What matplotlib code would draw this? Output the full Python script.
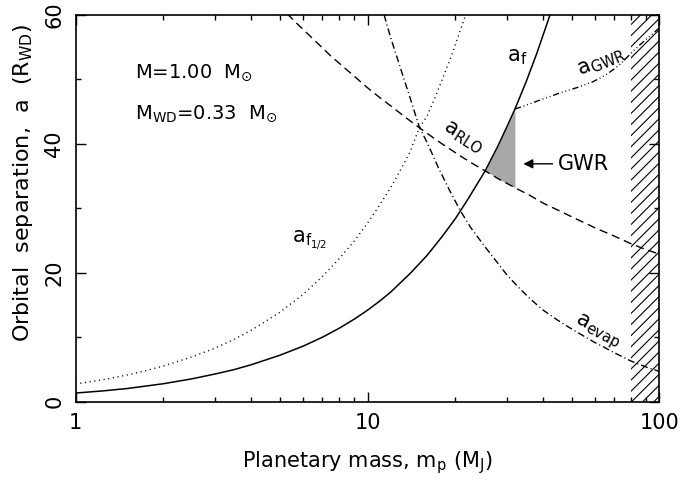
import matplotlib
matplotlib.use('Agg')
import matplotlib.pyplot as plt
import numpy as np

plt.rcParams['font.family'] = ['DejaVu Sans']
plt.rcParams['mathtext.default'] = 'regular'
plt.rcParams['hatch.linewidth'] = 0.8

# curves (planetary mass in M_J, separation in R_WD)
m_f = [1, 1.25, 1.5, 1.75, 2, 2.5, 3, 3.5, 4, 5, 6, 7, 8, 9, 10, 11, 12, 13, 14,
       16, 18, 20, 22, 24, 25.3, 28, 30, 32, 35, 38, 42.2]
a_f = [1.35, 1.7, 2.05, 2.45, 2.8, 3.55, 4.3, 5.0, 5.75, 7.2, 8.6, 10.0, 11.4, 12.8,
       14.2, 15.6, 17.0, 18.5, 19.9, 22.7, 25.6, 28.4, 31.3, 34.1, 35.8, 39.7, 42.6,
       45.4, 49.7, 54.0, 60.0]

m_half = [1, 1.25, 1.5, 1.75, 2, 2.5, 3, 3.5, 4, 5, 6, 7, 8, 9, 10, 11, 12, 13, 14,
          15.05, 16, 17, 18, 19, 20, 21.7]
a_half = [2.75, 3.45, 4.15, 4.85, 5.55, 6.95, 8.3, 9.7, 11.1, 13.85, 16.6, 19.4, 22.2,
          24.9, 27.7, 30.5, 33.2, 36.0, 38.8, 42.5, 44.3, 47.1, 49.9, 52.6, 55.4, 60.0]

m_rlo = [5.3, 5.6, 6, 6.5, 7, 7.5, 8, 9, 10, 11, 12, 13.5, 15.05, 16.5, 18, 21, 23,
         25.3, 28, 32, 36, 40, 45, 50, 60, 70, 80, 90, 100]
a_rlo = [60.2, 59.1, 57.8, 56.3, 54.9, 53.6, 52.5, 50.5, 48.7, 47.2, 45.9, 44.1, 42.5,
         41.2, 40.0, 38.0, 36.9, 35.8, 34.6, 33.2, 32.0, 30.8, 29.7, 28.7, 27.0, 25.7,
         24.5, 23.6, 22.9]

m_evap = [11.4, 12, 13, 14, 15.05, 16, 17.5, 19, 20.7, 22.5, 25, 27.5, 30, 33, 36,
          40, 45, 50, 55, 60, 65, 70, 75, 80, 90, 100]
a_evap = [60.0, 56.5, 51.6, 47.1, 42.6, 40.2, 36.3, 33.0, 29.8, 27.1, 24.3, 21.9,
          19.7, 17.7, 16.0, 14.2, 12.6, 11.3, 10.2, 9.2, 8.4, 7.6, 6.95, 6.3, 5.4, 4.7]

m_gwr = [32, 34, 36, 39, 42, 45, 48, 52, 55, 59, 62.6, 66, 70, 74, 77, 81, 85, 90,
         95, 100]
a_gwr = [45.4, 45.8, 46.2, 46.8, 47.3, 47.8, 48.2, 48.7, 49.1, 49.6, 50.2, 50.8, 51.6,
         52.5, 53.3, 54.3, 55.2, 56.2, 57.1, 58.0]

# allowed GWR zone (between a_RLO and a_f, up to 32 M_J)
zone_m = [25.3, 26.5, 28, 30, 32]
zone_lo = [35.8, 35.3, 34.6, 33.9, 33.2]
zone_hi = [35.8, 37.6, 39.7, 42.6, 45.4]

m_burn = 80  # hydrogen burning limit

fig = plt.figure(figsize=(7, 4.8), dpi=100)
ax = fig.add_axes([0.108, 0.163, 0.834, 0.806])

ax.fill_between(zone_m, zone_lo, zone_hi, color='#a8a8a8', lw=0)
ax.axvspan(m_burn, 100, fill=False, hatch='///', edgecolor='black', lw=0)

ax.plot(m_f, a_f, color='black', lw=1.1)
ax.plot(m_half, a_half, color='black', lw=1.0, dashes=(0.8, 2.6))
ax.plot(m_rlo, a_rlo, color='black', lw=1.0, dashes=(6, 3.5))
ax.plot(m_evap, a_evap, color='black', lw=1.0, dashes=(5, 2.2, 0.8, 2.2))
ax.plot(m_gwr, a_gwr, color='black', lw=1.0,
        dashes=(4.5, 2, 0.7, 2, 0.7, 2, 0.7, 2))

ax.set_xscale('log')
ax.set_xlim(1, 100)
ax.set_ylim(0, 60)
ax.set_xticks([1, 10, 100])
ax.set_xticklabels(['1', '10', '100'])
ax.set_yticks([0, 20, 40, 60])
ax.set_yticks([10, 30, 50], minor=True)
ax.tick_params(which='both', direction='in', top=True, right=True, labelsize=15)
ax.tick_params(which='major', length=7.5, width=1.0)
ax.tick_params(which='minor', length=3.8, width=1.0)
ax.tick_params(axis='x', pad=8)
ax.tick_params(axis='y', pad=8)
for lab in ax.get_yticklabels():
    lab.set_rotation(90)
    lab.set_va('center')
for sp in ax.spines.values():
    sp.set_linewidth(1.2)

ax.set_xlabel('Planetary mass, m$_p$ (M$_J$)', fontsize=15, labelpad=12)
ax.set_ylabel('Orbital  separation,  a  (R$_{WD}$)', fontsize=16)
ax.yaxis.set_label_coords(-0.07, 0.565)

ax.text(1.6, 51.0, 'M=1.00  M$_{⊙}$', fontsize=14, va='center')
ax.text(1.6, 44.7, 'M$_{WD}$=0.33  M$_{⊙}$', fontsize=14, va='center')

ax.text(30.1, 53.5, '$a_f$', fontsize=15, va='center')
ax.text(5.5, 25.0, '$a_{f_{1/2}}$', fontsize=15, va='center')
ax.text(21.3, 41.0, '$a_{RLO}$', fontsize=15, ha='center', va='center', rotation=-32)
ax.text(63.4, 52.6, '$a_{GWR}$', fontsize=15, ha='center', va='center', rotation=22)
ax.text(61.5, 10.8, '$a_{evap}$', fontsize=15, ha='center', va='center', rotation=-28)

ax.annotate('GWR', xy=(34.2, 36.9), xytext=(45, 36.9), fontsize=15, va='center',
            arrowprops=dict(arrowstyle='-|>', color='black', lw=1.0,
                            mutation_scale=14, shrinkA=2, shrinkB=0))

fig.savefig('out.png', dpi=100)
